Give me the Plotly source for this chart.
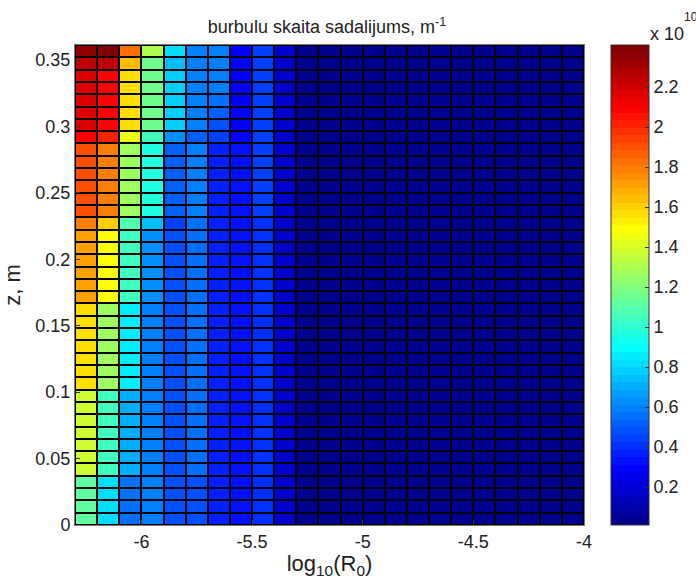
import math
import numpy as np
import plotly.graph_objects as go

# ---------------- data (values in units of 1e10 m^-1) ----------------
# x cell edges: log10(R0) from -6.3 to -4.0 (23 cells); z cell edges 0 .. 0.3613 m (39 cells)
x_edges = np.round(np.arange(-6.3, -3.95, 0.1), 2)
z_edges = np.linspace(0.0, 0.3613, 40)

# columns 12..23 (dark navy part, identical for all rows)
tail = [0.035, 0.03, 0.03, 0.03, 0.03, 0.025, 0.03, 0.025, 0.025, 0.02, 0.02, 0.01]

# row profiles for the first 11 columns, listed from the top row downwards
row_01 = [2.35, 2.41, 1.83, 1.30, 0.83, 0.58, 0.58, 0.31, 0.43, 0.19, 0.04]
row_02 = [2.26, 2.23, 1.63, 1.15, 0.76, 0.61, 0.61, 0.31, 0.43, 0.19, 0.04]
row_03 = [2.17, 2.11, 1.57, 1.15, 0.79, 0.61, 0.61, 0.31, 0.43, 0.19, 0.04]
row_04 = [2.17, 2.11, 1.57, 1.15, 0.79, 0.61, 0.60, 0.31, 0.43, 0.19, 0.04]
row_05 = [2.17, 2.11, 1.57, 1.15, 0.79, 0.61, 0.55, 0.31, 0.43, 0.19, 0.04]
row_06 = [2.17, 2.11, 1.57, 1.15, 0.79, 0.60, 0.52, 0.31, 0.43, 0.19, 0.04]
row_07 = [2.17, 2.11, 1.57, 1.15, 0.79, 0.58, 0.49, 0.31, 0.43, 0.19, 0.04]
row_08 = [2.11, 2.03, 1.45, 1.03, 0.64, 0.52, 0.43, 0.31, 0.43, 0.19, 0.04]
row_09_14 = [1.91, 1.81, 1.27, 0.97, 0.52, 0.58, 0.37, 0.33, 0.43, 0.19, 0.04]
row_15 = [1.81, 1.59, 1.09, 0.73, 0.43, 0.55, 0.35, 0.33, 0.42, 0.19, 0.04]
row_16_21 = [1.71, 1.51, 1.03, 0.64, 0.49, 0.55, 0.35, 0.32, 0.42, 0.19, 0.04]
row_22_28 = [1.57, 1.27, 0.85, 0.61, 0.49, 0.55, 0.35, 0.32, 0.41, 0.19, 0.04]
row_29_35 = [1.39, 1.03, 0.70, 0.58, 0.49, 0.55, 0.35, 0.32, 0.41, 0.19, 0.04]
row_36_39 = [1.12, 0.82, 0.55, 0.58, 0.49, 0.49, 0.35, 0.32, 0.40, 0.19, 0.04]

rows_top_down = ([row_01, row_02, row_03, row_04, row_05, row_06, row_07, row_08]
                 + [row_09_14] * 6 + [row_15] + [row_16_21] * 6
                 + [row_22_28] * 7 + [row_29_35] * 7 + [row_36_39] * 4)
z_vals = [r + tail for r in rows_top_down][::-1]  # bottom row first

x_tick_vals = [-6, -5.5, -5, -4.5, -4]
x_tick_text = ["-6", "-5.5", "-5", "-4.5", "-4"]
y_tick_vals = [0, 0.05, 0.1, 0.15, 0.2, 0.25, 0.3, 0.35]
y_tick_text = ["0", "0.05", "0.1", "0.15", "0.2", "0.25", "0.3", "0.35"]
c_tick_vals = [0.2, 0.4, 0.6, 0.8, 1.0, 1.2, 1.4, 1.6, 1.8, 2.0, 2.2]
c_tick_text = ["0.2", "0.4", "0.6", "0.8", "1", "1.2", "1.4", "1.6", "1.8", "2", "2.2"]


# ---------------- MATLAB jet(64) as a stepped colorscale ----------------
def jet(m=64):
    n = math.ceil(m / 4)
    u = [i / n for i in range(1, n + 1)] + [1.0] * (n - 1) + [i / n for i in range(n, 0, -1)]
    g0 = math.ceil(n / 2) - (1 if m % 4 == 1 else 0)
    J = [[0.0, 0.0, 0.0] for _ in range(m)]
    for k in range(len(u)):
        g = g0 + k + 1
        for ch, idx in ((0, g + n), (1, g), (2, g - n)):
            if 1 <= idx <= m:
                J[idx - 1][ch] = u[k]
    return J


J = jet(64)
cscale = []
for i, c in enumerate(J):
    col = "rgb(%d,%d,%d)" % tuple(round(v * 255) for v in c)
    cscale.append([i / 64, col])
    cscale.append([(i + 1) / 64, col])

FONT = "Liberation Sans, Arial, sans-serif"
FS = 18
TXT = "#222"

L, R, T, B = 75, 110, 45, 54
W, H = 696, 579
PW, PH = W - L - R, H - T - B


def px_x(px):
    return (px - L) / PW


def px_y(py):
    return (H - B - py) / PH


fig = go.Figure(
    go.Heatmap(
        x=x_edges,
        y=z_edges,
        z=z_vals,
        zmin=0.01,
        zmax=2.41,
        colorscale=cscale,
        xgap=2,
        ygap=2,
        colorbar=dict(
            thickness=38,
            thicknessmode="pixels",
            len=1.0,
            lenmode="fraction",
            x=px_x(613),
            xanchor="left",
            y=0.5,
            yanchor="middle",
            xpad=0,
            ypad=0,
            outlinewidth=1,
            outlinecolor="#333",
            ticks="inside",
            ticklen=4,
            tickcolor="#333",
            tickvals=c_tick_vals,
            ticktext=c_tick_text,
            tickfont=dict(family=FONT, size=FS, color=TXT),
        ),
    )
)

fig.update_layout(
    width=W,
    height=H,
    margin=dict(l=L, r=R, t=T, b=B),
    paper_bgcolor="white",
    plot_bgcolor="black",
    font=dict(family=FONT, size=FS, color=TXT),
    title=dict(
        text="burbulu skaita sadalijums, m<sup>-1</sup>",
        x=327 / W,
        xanchor="center",
        y=1 - 27 / H,
        yanchor="middle",
        font=dict(family=FONT, size=FS, color=TXT),
    ),
    xaxis=dict(
        range=[-6.3, -4.0],
        tickvals=x_tick_vals,
        ticktext=x_tick_text,
        ticks="inside",
        ticklen=5,
        tickcolor="#333",
        showline=True,
        mirror=True,
        linecolor="#777",
        showgrid=False,
        zeroline=False,
        automargin=False,
        title=dict(text="log<sub>10</sub>(R<sub>0</sub>)", standoff=9),
    ),
    yaxis=dict(
        range=[0, 0.3613],
        tickvals=y_tick_vals,
        ticktext=y_tick_text,
        ticks="inside",
        ticklen=5,
        tickcolor="#333",
        showline=True,
        mirror=True,
        linecolor="#777",
        showgrid=False,
        zeroline=False,
        automargin=False,
        title=dict(text="z, m", standoff=13),
    ),
    annotations=[
        dict(
            text="x 10",
            xref="paper",
            yref="paper",
            x=px_x(650),
            y=px_y(34),
            xanchor="left",
            yanchor="middle",
            showarrow=False,
            font=dict(family=FONT, size=FS, color=TXT),
        ),
        dict(
            text="10",
            xref="paper",
            yref="paper",
            x=px_x(684),
            y=px_y(17),
            xanchor="left",
            yanchor="middle",
            showarrow=False,
            font=dict(family=FONT, size=12, color=TXT),
        ),
    ],
)

fig.write_html(
    "out.html",
    config={"displayModeBar": False},
    post_script="document.body.style.margin='0';",
)
